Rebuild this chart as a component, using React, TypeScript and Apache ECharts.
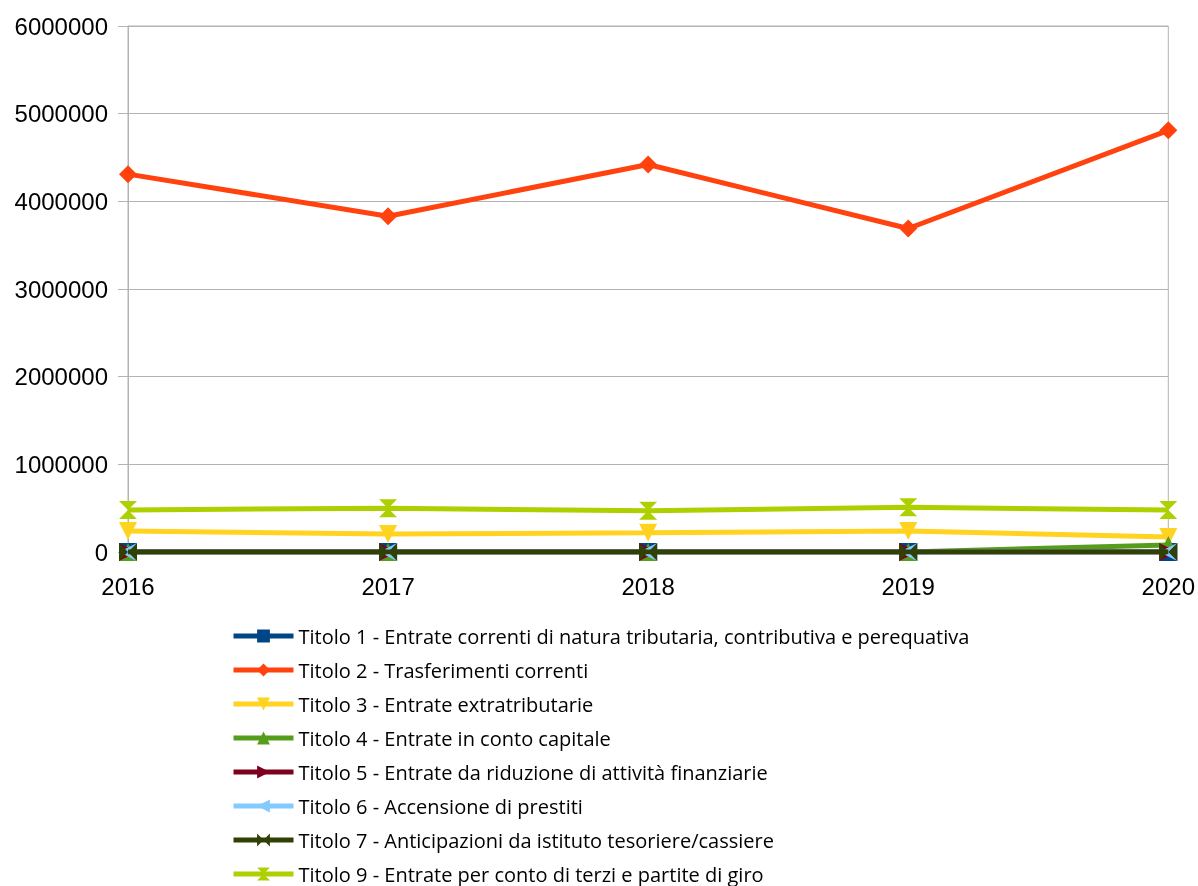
import React, { useEffect, useRef } from "react";
import * as echarts from "echarts";

const years = ["2016", "2017", "2018", "2019", "2020"];
const yTicks = [0, 1000000, 2000000, 3000000, 4000000, 5000000, 6000000];

const titolo1 = [0, 0, 0, 0, 0];
const titolo2 = [4310000, 3830000, 4420000, 3690000, 4810000];
const titolo3 = [240000, 205000, 220000, 240000, 170000];
const titolo4 = [0, 0, 0, 0, 80000];
const titolo5 = [0, 0, 0, 0, 0];
const titolo6 = [0, 0, 0, 0, 0];
const titolo7 = [0, 0, 0, 0, 0];
const titolo9 = [480000, 500000, 470000, 510000, 480000];

const names = [
  "Titolo 1 - Entrate correnti di natura tributaria, contributiva e perequativa",
  "Titolo 2 - Trasferimenti correnti",
  "Titolo 3 - Entrate extratributarie",
  "Titolo 4 - Entrate in conto capitale",
  "Titolo 5 - Entrate da riduzione di attività finanziarie",
  "Titolo 6 - Accensione di prestiti",
  "Titolo 7 - Anticipazioni da istituto tesoriere/cassiere",
  "Titolo 9 - Entrate per conto di terzi e partite di giro",
];
const seriesData = [titolo1, titolo2, titolo3, titolo4, titolo5, titolo6, titolo7, titolo9];
const colors = ["#004586", "#ff420e", "#ffd320", "#579d1c", "#7e0021", "#83caff", "#314004", "#aecf00"];
const symbols = [
  "rect",
  "diamond",
  "path://M0,0 L10,0 L5,10 Z",
  "triangle",
  "path://M0,0 L10,5 L0,10 Z",
  "path://M10,0 L0,5 L10,10 Z",
  "path://M0,0 L5,5 L0,10 Z M10,0 L5,5 L10,10 Z",
  "path://M0,0 L10,0 L5,5 Z M0,10 L10,10 L5,5 Z",
];

export default function App() {
  const ref = useRef<HTMLDivElement>(null);
  useEffect(() => {
    if (!ref.current) return;
    const chart = echarts.init(ref.current, undefined, { renderer: "svg" });
    chart.setOption({
      animation: false,
      color: colors,
      grid: {
        left: 128,
        right: 28,
        top: 26,
        bottom: 334,
        show: true,
        borderColor: "#b3b3b3",
        borderWidth: 1,
      },
      xAxis: {
        type: "category",
        data: years,
        boundaryGap: false,
        axisLine: { show: true, lineStyle: { color: "#b3b3b3" } },
        axisTick: { show: true, length: 6, lineStyle: { color: "#b3b3b3" } },
        axisLabel: {
          color: "#000",
          fontFamily: "Liberation Sans",
          fontSize: 24,
          margin: 22,
        },
        splitLine: { show: false },
      },
      yAxis: {
        type: "value",
        min: 0,
        max: 6000000,
        interval: 1000000,
        axisLine: { show: true, lineStyle: { color: "#b3b3b3" } },
        axisTick: { show: true, length: 10, lineStyle: { color: "#b3b3b3" } },
        axisLabel: {
          color: "#000",
          fontFamily: "Liberation Sans",
          fontSize: 24,
          margin: 20,
          formatter: (v: number) => (yTicks.includes(v) ? String(v) : ""),
        },
        splitLine: { show: true, lineStyle: { color: "#b3b3b3", width: 1 } },
      },
      legend: {
        orient: "vertical",
        left: 231,
        top: 626,
        padding: 0,
        itemWidth: 60,
        itemHeight: 16,
        itemGap: 14,
        lineStyle: { width: 5 },
        textStyle: {
          fontFamily: "Open Sans",
          fontSize: 20,
          color: "#000",
        },
        data: names,
      },
      series: seriesData.map((d, i) => ({
        name: names[i],
        type: "line",
        data: d,
        symbol: symbols[i],
        symbolSize: 18,
        showAllSymbol: true,
        lineStyle: { width: 5, color: colors[i] },
        itemStyle: { color: colors[i] },
        z: 2 + i,
      })),
    });
    return () => chart.dispose();
  }, []);
  return (
    <div
      ref={ref}
      style={{ position: "fixed", left: 0, top: 0, width: 1198, height: 886 }}
    />
  );
}
